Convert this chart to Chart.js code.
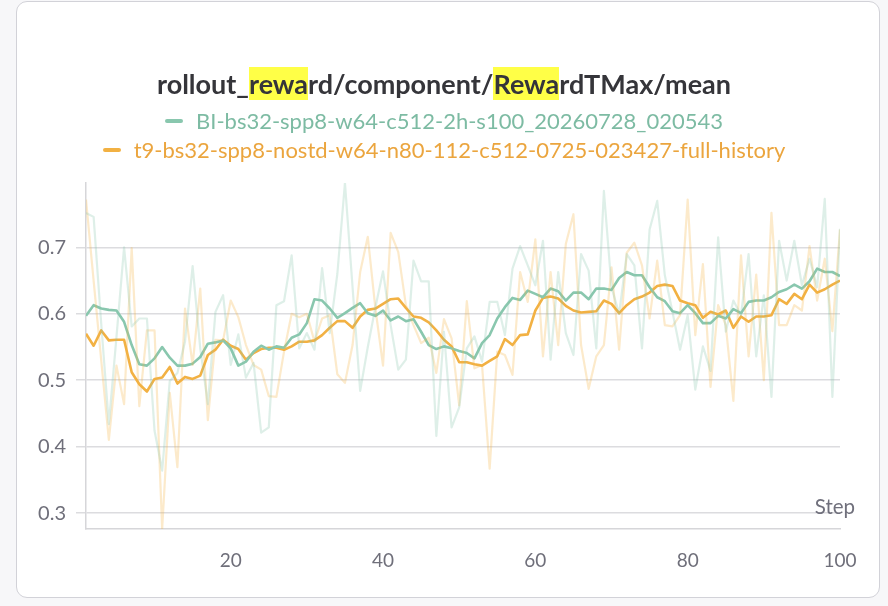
<!DOCTYPE html>
<html>
<head>
<meta charset="utf-8">
<script src="https://cdn.jsdelivr.net/npm/chart.js@4.4.1/dist/chart.umd.min.js"></script>
<style>
  html, body { margin: 0; padding: 0; background: #f7f7f9; }
  body { width: 888px; height: 606px; position: relative; overflow: hidden; font-family: Lato, "Noto Sans", sans-serif; }
  #card { position: absolute; left: 16px; top: 1px; width: 862px; height: 595px; border: 1.5px solid #d2d2d8; border-radius: 11px; background: #fff; }
  #chart { position: absolute; left: 0; top: 0; }
  #title { position: absolute; left: 0; width: 888px; top: 67px; text-align: center; font-size: 27px; font-weight: 700; color: #35353a; }
  #title .hl { background: #ffff47; }
  .leg { position: absolute; left: 0; width: 888px; text-align: center; font-size: 22px; white-space: nowrap; }
  .leg i { display: inline-block; width: 18px; height: 4px; border-radius: 2px; vertical-align: middle; margin-right: 13px; position: relative; top: -2px; }
  #leg1 { top: 107px; color: #7dbba3; }
  #leg1 i { background: #89c7ae; }
  #leg2 { top: 136px; color: #eba53e; }
  #leg2 i { background: #f2b143; }
</style>
</head>
<body>
<div id="card"></div>
<canvas id="chart" width="888" height="606"></canvas>
<div id="title">rollout_<span class="hl">rewa</span>rd/component/<span class="hl">Rewa</span>rdTMax/mean</div>
<div class="leg" id="leg1"><i></i>BI-bs32-spp8-w64-c512-2h-s100_20260728_020543</div>
<div class="leg" id="leg2"><i></i>t9-bs32-spp8-nostd-w64-n80-112-c512-0725-023427-full-history</div>
<script>
var names = [
  "BI-bs32-spp8-w64-c512-2h-s100_20260728_020543",
  "t9-bs32-spp8-nostd-w64-n80-112-c512-0725-023427-full-history"
];

var steps = [];
for (var i = 1; i <= 100; i++) steps.push(i);

var xTicks = [20, 40, 60, 80, 100];
var yTicks = [0.3, 0.4, 0.5, 0.6, 0.7];

// raw values
var biRaw = [
  0.752, 0.746, 0.585, 0.434, 0.565, 0.700, 0.581, 0.593, 0.593, 0.424,
  0.364, 0.499, 0.511, 0.558, 0.672, 0.548, 0.464, 0.603, 0.628, 0.523,
  0.569, 0.504, 0.526, 0.421, 0.429, 0.613, 0.619, 0.688, 0.548, 0.571,
  0.546, 0.669, 0.571, 0.660, 0.797, 0.640, 0.484, 0.550, 0.610, 0.664,
  0.583, 0.516, 0.531, 0.680, 0.649, 0.649, 0.416, 0.573, 0.429, 0.459,
  0.548, 0.566, 0.528, 0.618, 0.618, 0.568, 0.668, 0.702, 0.673, 0.643,
  0.710, 0.531, 0.663, 0.571, 0.538, 0.690, 0.665, 0.548, 0.785, 0.640,
  0.600, 0.690, 0.673, 0.548, 0.727, 0.770, 0.658, 0.603, 0.546, 0.598,
  0.486, 0.551, 0.514, 0.715, 0.573, 0.620, 0.598, 0.690, 0.536, 0.628,
  0.475, 0.710, 0.650, 0.710, 0.643, 0.683, 0.640, 0.773, 0.475, 0.728
];
var t9Raw = [
  0.772, 0.650, 0.530, 0.410, 0.522, 0.464, 0.699, 0.461, 0.575, 0.575,
  0.276, 0.481, 0.369, 0.608, 0.523, 0.638, 0.440, 0.561, 0.560, 0.620,
  0.595, 0.553, 0.523, 0.516, 0.476, 0.475, 0.543, 0.600, 0.595, 0.600,
  0.558, 0.593, 0.598, 0.509, 0.496, 0.553, 0.663, 0.716, 0.608, 0.522,
  0.722, 0.693, 0.613, 0.583, 0.556, 0.564, 0.511, 0.592, 0.563, 0.462,
  0.619, 0.518, 0.523, 0.367, 0.543, 0.538, 0.508, 0.663, 0.618, 0.712,
  0.536, 0.663, 0.553, 0.705, 0.750, 0.553, 0.487, 0.536, 0.553, 0.670,
  0.546, 0.692, 0.707, 0.673, 0.593, 0.680, 0.583, 0.581, 0.598, 0.772,
  0.568, 0.675, 0.490, 0.613, 0.583, 0.469, 0.688, 0.536, 0.659, 0.500,
  0.752, 0.583, 0.583, 0.613, 0.605, 0.702, 0.620, 0.683, 0.574, 0.727
];

// smoothed curves, also
var biSmooth = [
  0.597, 0.613, 0.608, 0.606, 0.605, 0.588, 0.553, 0.524, 0.522, 0.533,
  0.550, 0.534, 0.522, 0.522, 0.525, 0.535, 0.555, 0.557, 0.560, 0.548,
  0.522, 0.528, 0.543, 0.552, 0.546, 0.551, 0.549, 0.564, 0.569, 0.586,
  0.622, 0.620, 0.608, 0.594, 0.601, 0.609, 0.616, 0.601, 0.597, 0.605,
  0.590, 0.596, 0.589, 0.592, 0.573, 0.553, 0.547, 0.551, 0.548, 0.544,
  0.541, 0.533, 0.556, 0.568, 0.593, 0.610, 0.624, 0.621, 0.635, 0.630,
  0.625, 0.638, 0.634, 0.620, 0.632, 0.632, 0.622, 0.638, 0.638, 0.636,
  0.654, 0.663, 0.658, 0.658, 0.640, 0.625, 0.619, 0.604, 0.601, 0.613,
  0.601, 0.586, 0.586, 0.597, 0.593, 0.607, 0.601, 0.618, 0.620, 0.620,
  0.625, 0.633, 0.637, 0.644, 0.638, 0.649, 0.668, 0.663, 0.663, 0.657
];
var t9Smooth = [
  0.570, 0.552, 0.575, 0.560, 0.561, 0.561, 0.512, 0.494, 0.483, 0.502,
  0.504, 0.520, 0.495, 0.505, 0.502, 0.507, 0.538, 0.546, 0.561, 0.552,
  0.547, 0.531, 0.541, 0.547, 0.549, 0.549, 0.546, 0.551, 0.558, 0.558,
  0.560, 0.568, 0.579, 0.589, 0.589, 0.579, 0.596, 0.606, 0.608, 0.615,
  0.622, 0.623, 0.609, 0.596, 0.594, 0.587, 0.575, 0.561, 0.551, 0.527,
  0.527, 0.524, 0.522, 0.529, 0.536, 0.562, 0.553, 0.568, 0.569, 0.605,
  0.624, 0.626, 0.623, 0.612, 0.605, 0.602, 0.603, 0.604, 0.620, 0.615,
  0.601, 0.613, 0.622, 0.626, 0.632, 0.642, 0.644, 0.642, 0.620, 0.616,
  0.613, 0.594, 0.603, 0.599, 0.605, 0.579, 0.596, 0.588, 0.596, 0.596,
  0.598, 0.622, 0.615, 0.630, 0.622, 0.644, 0.632, 0.637, 0.644, 0.650
];

function pts(vals) {
  return vals.map(function (v, i) { return { x: steps[i], y: v }; });
}

var stepLabel = {
  id: "stepLabel",
  afterDraw: function (chart) {
    var c = chart.ctx, a = chart.chartArea;
    c.save();
    c.font = "20.5px Lato, 'Noto Sans', sans-serif";
    c.fillStyle = "#70707c";
    c.textAlign = "right";
    c.textBaseline = "middle";
    c.fillText("Step", a.right + 15, a.bottom - 22);
    c.restore();
  }
};

var ctx = document.getElementById("chart").getContext("2d");
var chart = new Chart(ctx, {
  type: "line",
  data: {
    datasets: [
      { label: names[0] + " (raw)", data: pts(biRaw), borderColor: "rgba(137,199,174,0.28)", borderWidth: 2.2 },
      { label: names[1] + " (raw)", data: pts(t9Raw), borderColor: "rgba(245,180,70,0.28)", borderWidth: 2.2 },
      { label: names[0], data: pts(biSmooth), borderColor: "#89c7ae", borderWidth: 2.6 },
      { label: names[1], data: pts(t9Smooth), borderColor: "#f2b143", borderWidth: 2.6 }
    ]
  },
  options: {
    responsive: false,
    animation: false,
    events: [],
    elements: { point: { radius: 0 }, line: { tension: 0, borderJoinStyle: "round" } },
    layout: { padding: { left: 0, right: 48, top: 183, bottom: 36 } },
    plugins: { legend: { display: false }, title: { display: false }, tooltip: { enabled: false } },
    scales: {
      x: {
        type: "linear",
        min: 1,
        max: 100,
        afterBuildTicks: function (s) { s.ticks = xTicks.map(function (v) { return { value: v }; }); },
        afterFit: function (s) { s.height = 41; },
        grid: { display: false, drawOnChartArea: false, tickLength: 10, color: "#d6d6d9" },
        border: { color: "#d6d6d9", width: 1.5 },
        ticks: { color: "#6f6f7a", font: { size: 19, family: "Lato" }, padding: 10, maxRotation: 0 }
      },
      y: {
        min: 0.276,
        max: 0.797,
        afterBuildTicks: function (s) { s.ticks = yTicks.map(function (v) { return { value: v }; }); },
        afterFit: function (s) { s.width = 86; },
        grid: { color: "#dcdcdf", lineWidth: 1.5, tickLength: 10 },
        border: { color: "#d6d6d9", width: 1.5 },
        ticks: { color: "#6f6f7a", font: { size: 20, family: "Lato" }, padding: 10,
          callback: function (v) { return v.toFixed(1); } }
      }
    }
  },
  plugins: [stepLabel]
});
</script>
</body>
</html>
